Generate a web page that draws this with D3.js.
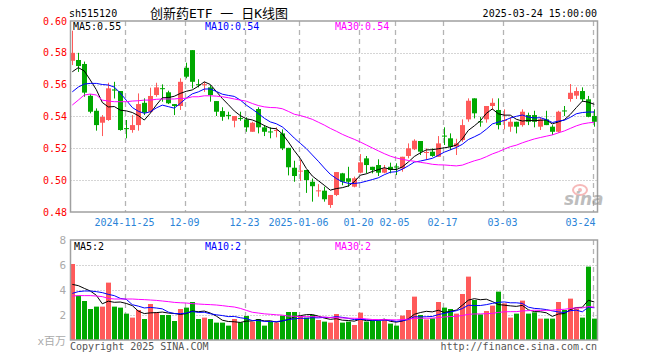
<!DOCTYPE html>
<html>
<head>
<meta charset="utf-8">
<script src="https://cdn.jsdelivr.net/npm/d3@7"></script>
<style>
  body { margin: 0; background: #fff; }
  svg { display: block; }
  text { font-family: "DejaVu Sans Mono", "Noto Sans CJK SC", monospace; font-size: 10px; }
</style>
</head>
<body>
<svg id="chart" width="660" height="360"></svg>
<script>
// trading days shown on the chart
const dates = [
  "2024-11-12","2024-11-13","2024-11-14","2024-11-15","2024-11-18","2024-11-19","2024-11-20","2024-11-21","2024-11-22","2024-11-25",
  "2024-11-26","2024-11-27","2024-11-28","2024-11-29","2024-12-02","2024-12-03","2024-12-04","2024-12-05","2024-12-06","2024-12-09",
  "2024-12-10","2024-12-11","2024-12-12","2024-12-13","2024-12-16","2024-12-17","2024-12-18","2024-12-19","2024-12-20","2024-12-23",
  "2024-12-24","2024-12-25","2024-12-26","2024-12-27","2024-12-30","2024-12-31","2025-01-02","2025-01-03","2025-01-06","2025-01-07",
  "2025-01-08","2025-01-09","2025-01-10","2025-01-13","2025-01-14","2025-01-15","2025-01-16","2025-01-17","2025-01-20","2025-01-21",
  "2025-01-22","2025-01-23","2025-01-24","2025-01-27","2025-02-05","2025-02-06","2025-02-07","2025-02-10","2025-02-11","2025-02-12",
  "2025-02-13","2025-02-14","2025-02-17","2025-02-18","2025-02-19","2025-02-20","2025-02-21","2025-02-24","2025-02-25","2025-02-26",
  "2025-02-27","2025-02-28","2025-03-03","2025-03-04","2025-03-05","2025-03-06","2025-03-07","2025-03-10","2025-03-11","2025-03-12",
  "2025-03-13","2025-03-14","2025-03-17","2025-03-18","2025-03-19","2025-03-20","2025-03-21","2025-03-24"
];

const open = [
  0.5750,0.5755,0.5730,0.5530,0.5436,0.5361,0.5378,0.5570,0.5560,0.5327,
  0.5315,0.5346,0.5486,0.5430,0.5535,0.5578,0.5552,0.5478,0.5466,0.5706,
  0.5817,0.5603,0.5598,0.5583,0.5497,0.5434,0.5410,0.5373,0.5390,0.5382,
  0.5304,0.5447,0.5332,0.5306,0.5312,0.5294,0.5203,0.5078,0.5057,0.5064,
  0.4990,0.4932,0.4934,0.4844,0.4907,0.5043,0.5012,0.4959,0.5047,0.5137,
  0.5084,0.5095,0.5047,0.5084,0.5086,0.5074,0.5152,0.5194,0.5246,0.5173,
  0.5179,0.5147,0.5280,0.5263,0.5211,0.5252,0.5382,0.5514,0.5369,0.5382,
  0.5466,0.5441,0.5375,0.5336,0.5367,0.5346,0.5409,0.5409,0.5336,0.5382,
  0.5336,0.5304,0.5438,0.5510,0.5531,0.5560,0.5508,0.5403
];
const high = [
  0.5939,0.5800,0.5745,0.5540,0.5451,0.5409,0.5612,0.5618,0.5560,0.5378,
  0.5409,0.5545,0.5514,0.5581,0.5612,0.5602,0.5562,0.5478,0.5640,0.5738,
  0.5817,0.5634,0.5618,0.5597,0.5497,0.5458,0.5430,0.5403,0.5430,0.5395,
  0.5367,0.5458,0.5346,0.5332,0.5332,0.5319,0.5203,0.5122,0.5127,0.5064,
  0.5010,0.4975,0.4959,0.4907,0.5051,0.5046,0.5084,0.5022,0.5164,0.5152,
  0.5084,0.5131,0.5095,0.5110,0.5106,0.5147,0.5231,0.5257,0.5246,0.5200,
  0.5200,0.5277,0.5332,0.5294,0.5260,0.5382,0.5514,0.5514,0.5398,0.5466,
  0.5514,0.5514,0.5445,0.5395,0.5367,0.5445,0.5424,0.5436,0.5395,0.5436,
  0.5346,0.5436,0.5466,0.5604,0.5583,0.5583,0.5529,0.5445
];
const low = [
  0.5723,0.5680,0.5524,0.5420,0.5311,0.5277,0.5373,0.5513,0.5311,0.5263,
  0.5298,0.5311,0.5409,0.5424,0.5524,0.5493,0.5478,0.5409,0.5441,0.5640,
  0.5577,0.5583,0.5555,0.5493,0.5403,0.5373,0.5382,0.5332,0.5373,0.5304,
  0.5304,0.5294,0.5277,0.5263,0.5269,0.5189,0.5030,0.4990,0.4995,0.4920,
  0.4865,0.4896,0.4865,0.4826,0.4900,0.4968,0.4959,0.4955,0.5043,0.5043,
  0.5043,0.5026,0.5043,0.5043,0.5032,0.5053,0.5137,0.5189,0.5158,0.5127,
  0.5147,0.5147,0.5221,0.5189,0.5158,0.5241,0.5367,0.5388,0.5336,0.5361,
  0.5441,0.5319,0.5319,0.5304,0.5294,0.5336,0.5346,0.5332,0.5315,0.5346,
  0.5284,0.5298,0.5403,0.5493,0.5510,0.5493,0.5395,0.5336
];
const close = [
  0.5800,0.5717,0.5550,0.5430,0.5346,0.5397,0.5577,0.5563,0.5315,0.5325,
  0.5346,0.5478,0.5424,0.5529,0.5583,0.5575,0.5483,0.5466,0.5618,0.5650,
  0.5618,0.5600,0.5603,0.5535,0.5430,0.5398,0.5408,0.5403,0.5388,0.5332,
  0.5361,0.5332,0.5304,0.5304,0.5315,0.5200,0.5081,0.5026,0.5060,0.5001,
  0.4962,0.4936,0.4880,0.4907,0.5051,0.4990,0.4990,0.5012,0.5112,0.5095,
  0.5064,0.5047,0.5074,0.5064,0.5084,0.5147,0.5200,0.5248,0.5179,0.5177,
  0.5152,0.5231,0.5277,0.5210,0.5231,0.5346,0.5499,0.5420,0.5367,0.5466,
  0.5486,0.5346,0.5378,0.5367,0.5336,0.5430,0.5367,0.5367,0.5382,0.5346,
  0.5304,0.5430,0.5436,0.5549,0.5560,0.5508,0.5398,0.5367
];
// volume, millions
const volume = [
  6.08,3.55,3.12,2.48,2.67,2.67,4.59,2.67,2.59,2.11,
  1.79,2.40,1.68,2.88,2.21,2.00,2.00,1.52,2.48,2.59,
  3.04,1.68,1.79,1.68,1.39,1.39,1.15,1.68,1.41,1.92,
  1.47,1.68,1.15,1.47,1.39,1.95,2.24,2.24,1.92,1.79,
  2.00,1.60,1.47,1.39,2.08,1.39,1.47,1.20,2.19,1.47,
  1.52,1.52,1.65,1.31,1.15,1.95,2.40,3.47,2.00,1.65,
  1.73,3.04,2.59,2.48,2.11,3.68,5.07,3.20,2.05,2.32,
  2.75,3.87,2.93,1.79,2.11,3.15,2.11,2.21,1.71,1.71,
  1.71,3.04,2.40,3.31,2.53,1.79,5.87,1.71
];

// moving-average values before a full window exists
const ma5Lead = [0.5681,0.5707,0.5686,0.5629];
const ma10Lead = [0.5555,0.5585,0.5604,0.5608,0.5608,0.5601,0.5598,0.5585,0.5547];
const ma30Lead = [
  0.5472,0.5503,0.5535,0.5541,0.5535,0.5503,0.5497,0.5493,0.5493,0.5493,
  0.5497,0.5499,0.5503,0.5503,0.5508,0.5510,0.5510,0.5510,0.5514,0.5514,
  0.5524,0.5524,0.5530,0.5530,0.5528,0.5524,0.5518,0.5510,0.5503
];
const vma5Lead = [4.45,4.35,4.13,3.92];
const vma10Lead = [3.73,3.87,3.92,3.92,3.87,3.79,3.65,3.55,3.33];
const vma30Lead = [
  3.52,3.55,3.55,3.55,3.52,3.47,3.33,3.28,3.28,3.28,
  3.28,3.25,3.23,3.20,3.17,3.12,3.07,3.01,2.98,2.96,
  2.91,2.88,2.85,2.83,2.80,2.75,2.69,2.64,2.53
];

const priceTicks = [0.48,0.50,0.52,0.54,0.56,0.58,0.60];
const volTicks = [2,4,6,8];
const dateTicks = ["2024-11-25","2024-12-09","2024-12-23","2025-01-06","2025-01-20","2025-02-05","2025-02-17","2025-03-03","2025-03-24"];
const dateTickLabels = ["2024-11-25","12-09","12-23","2025-01-06","01-20","02-05","02-17","03-03","03-24"];
const maNames = ["MA5","MA10","MA30"];
const maColors = ["#000","#00f","#f0f"];
const priceMaLabels = ["0.55","0.54","0.54"];
const volMaLabels = ["2","2","2"];

const svg = d3.select("#chart");
const RED = "#ff5a5a", GREEN = "#00a800", FRAME = "#a0a0a0";

const x = d3.scalePoint().domain(dates).range([72.3, 594.3]);
const y = d3.scaleLinear().domain([0.48, 0.60]).range([212, 21]);
const yv = d3.scaleLinear().domain([0, 8]).range([340, 240]);
const L = 70.5, R = 597.5;
const px = v => Math.round(v) + 0.5;

function movingAvg(vals, n, lead) {
  return vals.map((v, i) => i < n - 1 ? lead[i] : d3.mean(vals.slice(i - n + 1, i + 1)));
}

// header
svg.append("text").attr("x", 69).attr("y", 17).attr("fill", "#000").text("sh515120");
svg.append("text").attr("x", 150).attr("y", 18).attr("fill", "#000")
  .style("font-size", "13px").text("创新药ETF 一 日K线图");
svg.append("text").attr("x", 597).attr("y", 17).attr("text-anchor", "end").attr("fill", "#000")
  .text("2025-03-24 15:00:00");

function panel(ys, ticks, top, bottom) {
  const g = svg.append("g");
  // dotted horizontal grid
  g.selectAll(".hg").data(ticks.filter(t => ys(t) > top + 2 && ys(t) < bottom - 2)).enter()
    .append("line")
    .attr("x1", L).attr("x2", R)
    .attr("y1", d => px(ys(d))).attr("y2", d => px(ys(d)))
    .attr("stroke", "#aaa").attr("stroke-dasharray", "1,2");
  // dashed vertical grid
  g.selectAll(".vg").data(dateTicks).enter()
    .append("line")
    .attr("x1", d => px(x(d) - 1.8)).attr("x2", d => px(x(d) - 1.8))
    .attr("y1", top).attr("y2", bottom)
    .attr("stroke", "#b4b4b4").attr("stroke-width", 1.3).attr("stroke-dasharray", "5,4");
  return g;
}

// ---- price panel
const yTop = y(0.60), yBot = y(0.48);
panel(y, priceTicks, yTop, yBot);

const candles = svg.append("g").selectAll("g").data(dates).enter().append("g");
candles.append("line")
  .attr("x1", d => Math.floor(x(d)) + 0.5).attr("x2", d => Math.floor(x(d)) + 0.5)
  .attr("y1", (d, i) => y(high[i])).attr("y2", (d, i) => y(low[i]))
  .attr("stroke", (d, i) => close[i] >= open[i] ? RED : GREEN);
candles.append("rect")
  .attr("x", d => Math.floor(x(d)) - 2)
  .attr("width", 5)
  .attr("y", (d, i) => y(Math.max(open[i], close[i])))
  .attr("height", (d, i) => Math.max(1, Math.abs(y(open[i]) - y(close[i]))))
  .attr("fill", (d, i) => close[i] >= open[i] ? RED : GREEN);

const priceMAs = [movingAvg(close, 5, ma5Lead), movingAvg(close, 10, ma10Lead), movingAvg(close, 30, ma30Lead)];
priceMAs.forEach((m, k) => {
  svg.append("path")
    .attr("d", d3.line().x((d, i) => x(dates[i])).y(d => y(d))(m))
    .attr("fill", "none").attr("stroke", maColors[k]).attr("stroke-width", 1);
});

svg.append("rect").attr("x", L).attr("y", yTop).attr("width", R - L).attr("height", yBot - yTop)
  .attr("fill", "none").attr("stroke", FRAME).attr("stroke-width", 1.5);

svg.selectAll(".pl").data(priceTicks).enter().append("text")
  .attr("x", 67).attr("y", d => y(d) + 3.5).attr("text-anchor", "end")
  .attr("fill", "#f00").text(d => d.toFixed(2));

[73, 205, 335].forEach((lx, k) => {
  svg.append("text").attr("x", lx).attr("y", 30).attr("fill", maColors[k])
    .text(maNames[k] + ":" + priceMaLabels[k]);
});

// date labels
svg.selectAll(".dl").data(dateTicks).enter().append("text")
  .attr("x", (d, i) => i === dateTicks.length - 1 ? R - 2 : x(d) - 1.8)
  .attr("y", 225.5)
  .attr("text-anchor", (d, i) => i === dateTicks.length - 1 ? "end" : "middle")
  .attr("fill", "#2a84d8")
  .text((d, i) => dateTickLabels[i]);

// sina watermark
const wm = svg.append("g").attr("opacity", 0.55);
wm.append("ellipse").attr("cx", 580).attr("cy", 190).attr("rx", 7).attr("ry", 5)
  .attr("fill", "none").attr("stroke", "#f08080").attr("stroke-width", 2);
wm.append("circle").attr("cx", 580).attr("cy", 190).attr("r", 2).attr("fill", "#f08080");
wm.append("text").attr("x", 564).attr("y", 205)
  .style("font-family", "'DejaVu Sans', sans-serif").style("font-size", "17px")
  .style("font-weight", "bold").style("font-style", "italic")
  .attr("fill", "#888").text("sina");

// ---- volume panel
const vTop = yv(8), vBot = yv(0);
panel(yv, volTicks, vTop, vBot);

svg.append("g").selectAll("rect").data(dates).enter().append("rect")
  .attr("x", d => Math.floor(x(d)) - 2)
  .attr("width", 5)
  .attr("y", (d, i) => yv(volume[i]))
  .attr("height", (d, i) => vBot - yv(volume[i]))
  .attr("fill", (d, i) => close[i] >= open[i] ? RED : GREEN);

const volMAs = [movingAvg(volume, 5, vma5Lead), movingAvg(volume, 10, vma10Lead), movingAvg(volume, 30, vma30Lead)];
volMAs.forEach((m, k) => {
  svg.append("path")
    .attr("d", d3.line().x((d, i) => x(dates[i])).y(d => yv(d))(m))
    .attr("fill", "none").attr("stroke", maColors[k]).attr("stroke-width", 1);
});

svg.append("rect").attr("x", L).attr("y", vTop).attr("width", R - L).attr("height", vBot - vTop)
  .attr("fill", "none").attr("stroke", FRAME).attr("stroke-width", 1.5);

svg.selectAll(".vl").data(volTicks).enter().append("text")
  .attr("x", 66).attr("y", d => yv(d) + 4).attr("text-anchor", "end")
  .attr("fill", "#aaa").style("font-size", "11px").text(d => d);
svg.append("text").attr("x", 66).attr("y", 345).attr("text-anchor", "end")
  .attr("fill", "#aaa").style("font-size", "11px").text("x百万");

[74, 205, 335].forEach((lx, k) => {
  svg.append("text").attr("x", lx).attr("y", 250).attr("fill", maColors[k])
    .text(maNames[k] + ":" + volMaLabels[k]);
});

// footer
svg.append("text").attr("x", 70).attr("y", 349.5).attr("fill", "#555").text("Copyright 2025 SINA.COM");
svg.append("text").attr("x", 597).attr("y", 349.5).attr("text-anchor", "end").attr("fill", "#555")
  .text("http://finance.sina.com.cn");
</script>
</body>
</html>
